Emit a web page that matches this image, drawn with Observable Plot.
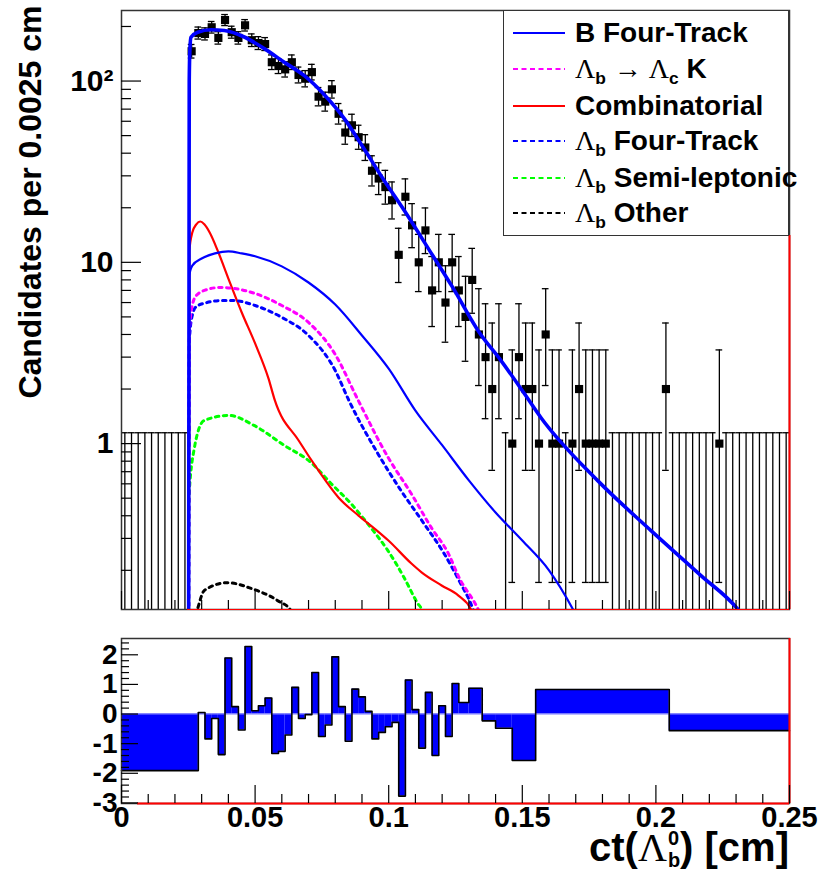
<!DOCTYPE html>
<html>
<head>
<meta charset="utf-8">
<script src="https://cdn.jsdelivr.net/npm/d3@7"></script>
<script src="https://cdn.jsdelivr.net/npm/@observablehq/plot@0.6"></script>
<style>
  html, body { margin: 0; padding: 0; background: #fff; }
  #wrap { position: relative; width: 829px; height: 871px; font-family: "Liberation Sans", Arial, sans-serif; font-weight: bold; color: #000; }
  #wrap svg { display: block; }
  #topPlot { position: absolute; left: 0; top: 0; }
  #resPlot { position: absolute; left: 0; top: 620px; }
  .g { font-family: "Liberation Serif", "Times New Roman", serif; font-weight: normal; }
  .sub { font-size: 0.62em; position: relative; top: 0.35em; }
  #legend { position: absolute; left: 503px; top: 10px; width: 284px; height: 224px; border: 1.5px solid #333; background: #fff; }
  .row { position: absolute; left: 0; height: 30px; display: flex; align-items: center; font-size: 28px; white-space: nowrap; }
  .row svg { margin-left: 9px; margin-right: 10px; }
  #xtitle { position: absolute; right: 40px; top: 827px; font-size: 40px; line-height: 0.8; white-space: nowrap; }
  .stack { display: inline-block; font-size: 0.5em; line-height: 1.12em; vertical-align: -0.3em; text-align: left; margin-left: 1px; }
  .stack span { display: block; }
</style>
</head>
<body>
<div id="wrap">
  <div id="topPlot"></div>
  <div id="resPlot"></div>
  <div id="legend"></div>
  <div id="xtitle">ct(<span class="g">Λ</span><span class="stack"><span>0</span><span>b</span></span>) [cm]</div>
</div>
<script>
// ---------------- data ----------------
const X_MIN = 0, X_MAX = 0.25;
const Y_MIN = 0.1216, Y_MAX = 245;
const R_MIN = -3.02, R_MAX = 2.55;
const binWidth = 0.0025;
const yTitle = "Candidates per 0.0025 cm";

// data counts per bin (100 bins of 0.0025 cm)
const counts = [
  0,0,0,0,0,0,0,0,0,0,
  146,184,182,198,173,217,186,173,203,168,
  162,160,127,121,116,127,108,103,112,82,
  77,90,66,52,57,49,43,32,29,26,
  22,11,23,16,10,15,7,10,6,10,
  7,5,8,4,3,2,3,0,1,3,
  2,2,1,4,1,1,0,1,2,1,
  1,1,1,0,0,0,0,0,0,0,
  0,2,0,0,0,0,0,0,0,1,
  0,0,0,0,0,0,0,0,0,0
];

// fit curves (x in cm, y in candidates)
const totalX = [0.02505,0.02535,0.0256,0.02601,0.02852,0.0335,0.03847,0.04596,0.05344,0.06093,0.06841,0.0759,0.08338,0.08963,0.09835,0.10584,0.11647,0.12395,0.13391,0.14203,0.15075,0.157,0.17822,0.19817,0.21688,0.23072,0.235];
const totalY = [0.01,100,150,174.5,186,192,190,175,151,127,107,84,62,45,28.2,19.3,10.9,7.27,4.10,2.87,1.89,1.39,0.625,0.331,0.187,0.1216,0.1];

const bFourX = [0.02505,0.02535,0.0265,0.03,0.035,0.04,0.045,0.05,0.06,0.07,0.08,0.09,0.1,0.11,0.12,0.13,0.14,0.15,0.16,0.169,0.172];
const bFourY = [0.01,8.46,9.6,10.5,11.2,11.5,11.2,10.8,9.5,7.74,5.85,3.95,2.59,1.52,0.98,0.627,0.417,0.292,0.2,0.1216,0.1];

const lcKX = [0.02505,0.0254,0.0265,0.028,0.032,0.037,0.042,0.05,0.06,0.07,0.08,0.0886,0.0998,0.1084,0.1159,0.1223,0.1263,0.1335,0.136];
const lcKY = [0.01,4.2,5.8,6.56,7.08,7.27,7.18,6.73,5.78,4.66,3.1,1.73,0.838,0.531,0.345,0.248,0.183,0.1216,0.1];

const lbFourX = [0.02505,0.0254,0.0265,0.028,0.032,0.037,0.042,0.05,0.06,0.07,0.08,0.0851,0.0959,0.1046,0.1132,0.1207,0.1263,0.1316,0.1335];
const lbFourY = [0.01,3.7,5.1,5.7,6.0,6.15,6.15,5.78,4.97,3.95,2.53,1.73,0.883,0.551,0.362,0.248,0.176,0.1216,0.1];

const combX = [0.02505,0.0254,0.0265,0.028,0.0295,0.031,0.033,0.036,0.04,0.045,0.05,0.055,0.0574,0.0663,0.0737,0.0812,0.0887,0.0947,0.0999,0.1085,0.1123,0.1198,0.1261,0.1308,0.132];
const combY = [0.01,11.6,14.6,16.2,16.8,16.2,14.6,11.6,8.14,5.29,3.57,2.29,1.73,1.04,0.711,0.505,0.401,0.34,0.292,0.218,0.195,0.165,0.145,0.1216,0.11];

const semiX = [0.02505,0.0252,0.0271,0.0309,0.0402,0.0496,0.0608,0.0709,0.0784,0.0858,0.0933,0.0997,0.1057,0.1109,0.1123,0.113];
const semiY = [0.01,0.485,0.917,1.34,1.43,1.26,0.98,0.787,0.603,0.468,0.344,0.257,0.183,0.131,0.1216,0.11];

const otherX = [0.02505,0.0252,0.0285,0.031,0.0397,0.0485,0.0585,0.0634,0.066];
const otherY = [0.01,0.08,0.123,0.155,0.171,0.159,0.136,0.12,0.1];

// residual histogram: bin edges and values
const resEdges = [0,0.02875,0.03125,0.03375,0.03625,0.03875,0.04125,0.04375,0.04625,0.04875,0.05125,
  0.05375,0.05625,0.05875,0.06125,0.06375,0.06625,0.06875,0.07125,0.07375,0.07625,
  0.07875,0.08125,0.08375,0.08625,0.08875,0.09125,0.09375,0.09625,0.09875,0.10125,
  0.10375,0.10625,0.10875,0.11125,0.11375,0.11625,0.11875,0.12125,0.12375,0.12625,
  0.13,0.135,0.14,0.14625,0.155,0.205,0.25];
const resValues = [-1.91,0.05,-0.84,-0.15,-1.37,1.89,0.25,-0.54,2.28,0.11,0.28,
  0.54,-1.33,-1.26,-0.71,0.9,-0.15,-0.02,1.4,-0.76,-0.37,
  1.93,0.25,-0.92,0.84,0.58,0.09,-0.84,-0.62,-0.43,-0.28,
  -2.77,1.15,0.15,-1.15,0.73,-1.4,0.28,-0.76,1.03,
  0.39,0.87,-0.23,-0.48,-1.57,0.83,-0.56];

// axis ticks
const xMajor = [0,0.05,0.1,0.15,0.2,0.25];
const xMinor = [0.01,0.02,0.03,0.04,0.06,0.07,0.08,0.09,0.11,0.12,0.13,0.14,0.16,0.17,0.18,0.19,0.21,0.22,0.23,0.24];
const yMajor = [1,10,100];
const yMajorLabels = ["1","10","10²"];
const yMinor = [0.2,0.3,0.4,0.5,0.6,0.7,0.8,0.9,2,3,4,5,6,7,8,9,20,30,40,50,60,70,80,90,200];
const rMajor = [-3,-2,-1,0,1,2];
const rMinor = [-2.8,-2.6,-2.4,-2.2,-1.8,-1.6,-1.4,-1.2,-0.8,-0.6,-0.4,-0.2,0.2,0.4,0.6,0.8,1.2,1.4,1.6,1.8,2.2,2.4];

// legend entries
const legendItems = [
  {html: "B Four-Track", color: "#0000ff", dash: null},
  {html: '<span class="g">Λ</span><span class="sub">b</span> <span class="g">→ Λ</span><span class="sub">c</span> K', color: "#ff00ff", dash: "5,3.5"},
  {html: "Combinatorial", color: "#ff0000", dash: null},
  {html: '<span class="g">Λ</span><span class="sub">b</span> Four-Track', color: "#0000ff", dash: "5,3.5"},
  {html: '<span class="g">Λ</span><span class="sub">b</span> Semi-leptonic', color: "#00ff00", dash: "5,3.5"},
  {html: '<span class="g">Λ</span><span class="sub">b</span> Other', color: "#000000", dash: "5,3.5"}
];
const legendRowY = [32,68,105,140,177,212];

// ---------------- build ----------------
function garwood(n) {
  if (n === 0) return [0, 1.148];
  const lo = n * Math.pow(1 - 1/(9*n) - 1/(3*Math.sqrt(n)), 3);
  const m = n + 1;
  const hi = m * Math.pow(1 - 1/(9*m) + 1/(3*Math.sqrt(m)), 3);
  return [lo, hi];
}
const bins = counts.map((n, i) => {
  const [lo, hi] = garwood(n);
  return {x: (i + 0.5) * binWidth, x1: i * binWidth, x2: (i + 1) * binWidth, n,
          low: lo > 0 ? lo : Y_MIN / 10, high: hi};
});
const filled = bins.filter(d => d.n > 0);

const zip = (xs, ys) => xs.map((x, i) => ({x, y: ys[i]}));
const DOT = "3.5,4.5";
const curves = [
  {pts: zip(semiX, semiY), stroke: "#00ff00", w: 3, dash: DOT},
  {pts: zip(otherX, otherY), stroke: "#000000", w: 3, dash: DOT},
  {pts: zip(combX, combY), stroke: "#ff0000", w: 2.2, dash: null},
  {pts: zip(lbFourX, lbFourY), stroke: "#0000ff", w: 3, dash: DOT},
  {pts: zip(lcKX, lcKY), stroke: "#ff00ff", w: 3, dash: DOT},
  {pts: zip(bFourX, bFourY), stroke: "#0000ff", w: 2.2, dash: null},
  {pts: zip(totalX, totalY), stroke: "#0000ff", w: 3.6, dash: null}
];

const W = 829, TOP_H = 620, ML = 121, MR = 40, MT = 10, MB = 11;
const FW = W - ML - MR, FH = TOP_H - MT - MB;

const topChart = Plot.plot({
  width: W, height: TOP_H, marginLeft: ML, marginRight: MR, marginTop: MT, marginBottom: MB,
  style: {background: "#fff", fontFamily: "Liberation Sans, Arial, sans-serif", fontWeight: "bold", color: "#000"},
  x: {type: "linear", domain: [X_MIN, X_MAX], axis: null},
  y: {type: "log", domain: [Y_MIN, Y_MAX], axis: null},
  marks: [
    Plot.ruleX(bins, {x: "x", y1: "low", y2: "high", stroke: "#000", strokeWidth: 1.3, clip: true}),
    Plot.ruleY(bins, {y: "high", x1: "x1", x2: "x2", stroke: "#000", strokeWidth: 1.3, clip: true}),
    Plot.ruleY(filled, {y: "low", x1: "x1", x2: "x2", stroke: "#000", strokeWidth: 1.3, clip: true}),
    Plot.dot(filled, {x: "x", y: "n", symbol: "square", r: 4.6, fill: "#000", stroke: null, clip: true}),
    ...curves.map(c => Plot.line(c.pts, {x: "x", y: "y", stroke: c.stroke, strokeWidth: c.w,
        strokeDasharray: c.dash, curve: "monotone-x", clip: true})),
    Plot.frame({stroke: "#333", strokeWidth: 1.5}),
    Plot.ruleY([Y_MIN], {stroke: "#ff0000", strokeWidth: 1, insetLeft: 66}),
    Plot.ruleX([X_MAX], {stroke: "#ff0000", strokeWidth: 2, insetTop: 225}),
    Plot.ruleX(xMajor, {x: d => d, insetTop: FH - 18, stroke: "#000", strokeWidth: 1.2}),
    Plot.ruleX(xMinor, {x: d => d, insetTop: FH - 9, stroke: "#000", strokeWidth: 1.2}),
    Plot.ruleY(yMajor, {y: d => d, insetRight: FW - 20, stroke: "#000", strokeWidth: 1.2}),
    Plot.ruleY(yMinor, {y: d => d, insetRight: FW - 10, stroke: "#000", strokeWidth: 1.2}),
    Plot.axisY({ticks: yMajor, tickSize: 0, tickPadding: 8, fontSize: 30, fontWeight: "bold",
                tickFormat: d => yMajorLabels[yMajor.indexOf(d)], label: null}),
    Plot.text([yTitle], {frameAnchor: "top-left", dx: -91, dy: -5, rotate: -90, textAnchor: "end",
                lineAnchor: "middle", fontSize: 32, fontWeight: "bold", fill: "#000"})
  ]
});
document.getElementById("topPlot").appendChild(topChart);

// residual chart
const resBars = resValues.map((v, i) => ({x1: resEdges[i], x2: resEdges[i + 1], v}));
const stepPts = resBars.flatMap(b => [{x: b.x1, y: b.v}, {x: b.x2, y: b.v}]);
const RES_H = 251, RMT = 18, RMB = 68;
const RFH = RES_H - RMT - RMB;

const resChart = Plot.plot({
  width: W, height: RES_H, marginLeft: ML, marginRight: MR, marginTop: RMT, marginBottom: RMB,
  style: {background: "#fff", fontFamily: "Liberation Sans, Arial, sans-serif", fontWeight: "bold", color: "#000"},
  x: {type: "linear", domain: [X_MIN, X_MAX], axis: null},
  y: {type: "linear", domain: [R_MIN, R_MAX], axis: null},
  marks: [
    Plot.rectY(resBars, {x1: "x1", x2: "x2", y1: 0, y2: "v", fill: "#0000ff"}),
    Plot.ruleY([0], {stroke: "#8080ff", strokeWidth: 1}),
    Plot.line(stepPts, {x: "x", y: "y", stroke: "#000", strokeWidth: 1.6}),
    Plot.frame({stroke: "#333", strokeWidth: 1.5}),
    Plot.ruleY([R_MIN], {stroke: "#ff0000", strokeWidth: 2, insetLeft: 16}),
    Plot.ruleX([X_MAX], {stroke: "#ff0000", strokeWidth: 2}),
    Plot.ruleX(xMajor, {x: d => d, insetTop: RFH - 18, stroke: "#000", strokeWidth: 1.2}),
    Plot.ruleX(xMinor, {x: d => d, insetTop: RFH - 9, stroke: "#000", strokeWidth: 1.2}),
    Plot.ruleY(rMajor, {y: d => d, insetRight: FW - 17, stroke: "#000", strokeWidth: 1.2}),
    Plot.ruleY(rMinor, {y: d => d, insetRight: FW - 8, stroke: "#000", strokeWidth: 1.2}),
    Plot.axisY({ticks: rMajor, tickSize: 0, tickPadding: 4, fontSize: 28, fontWeight: "bold",
                tickFormat: d => String(d), label: null}),
    Plot.axisX({ticks: xMajor, tickSize: 0, tickPadding: 3, fontSize: 29, fontWeight: "bold",
                tickFormat: d => String(d), label: null})
  ]
});
document.getElementById("resPlot").appendChild(resChart);

// legend
const legend = document.getElementById("legend");
legendItems.forEach((it, i) => {
  const row = document.createElement("div");
  row.className = "row";
  row.style.top = (legendRowY[i] - 10 - 15) + "px";
  row.innerHTML = `<svg width="52" height="8"><line x1="0" y1="4" x2="52" y2="4" stroke="${it.color}" stroke-width="2.2" ${it.dash ? `stroke-dasharray="${it.dash}"` : ""}/></svg><span>${it.html}</span>`;
  legend.appendChild(row);
});
</script>
</body>
</html>
